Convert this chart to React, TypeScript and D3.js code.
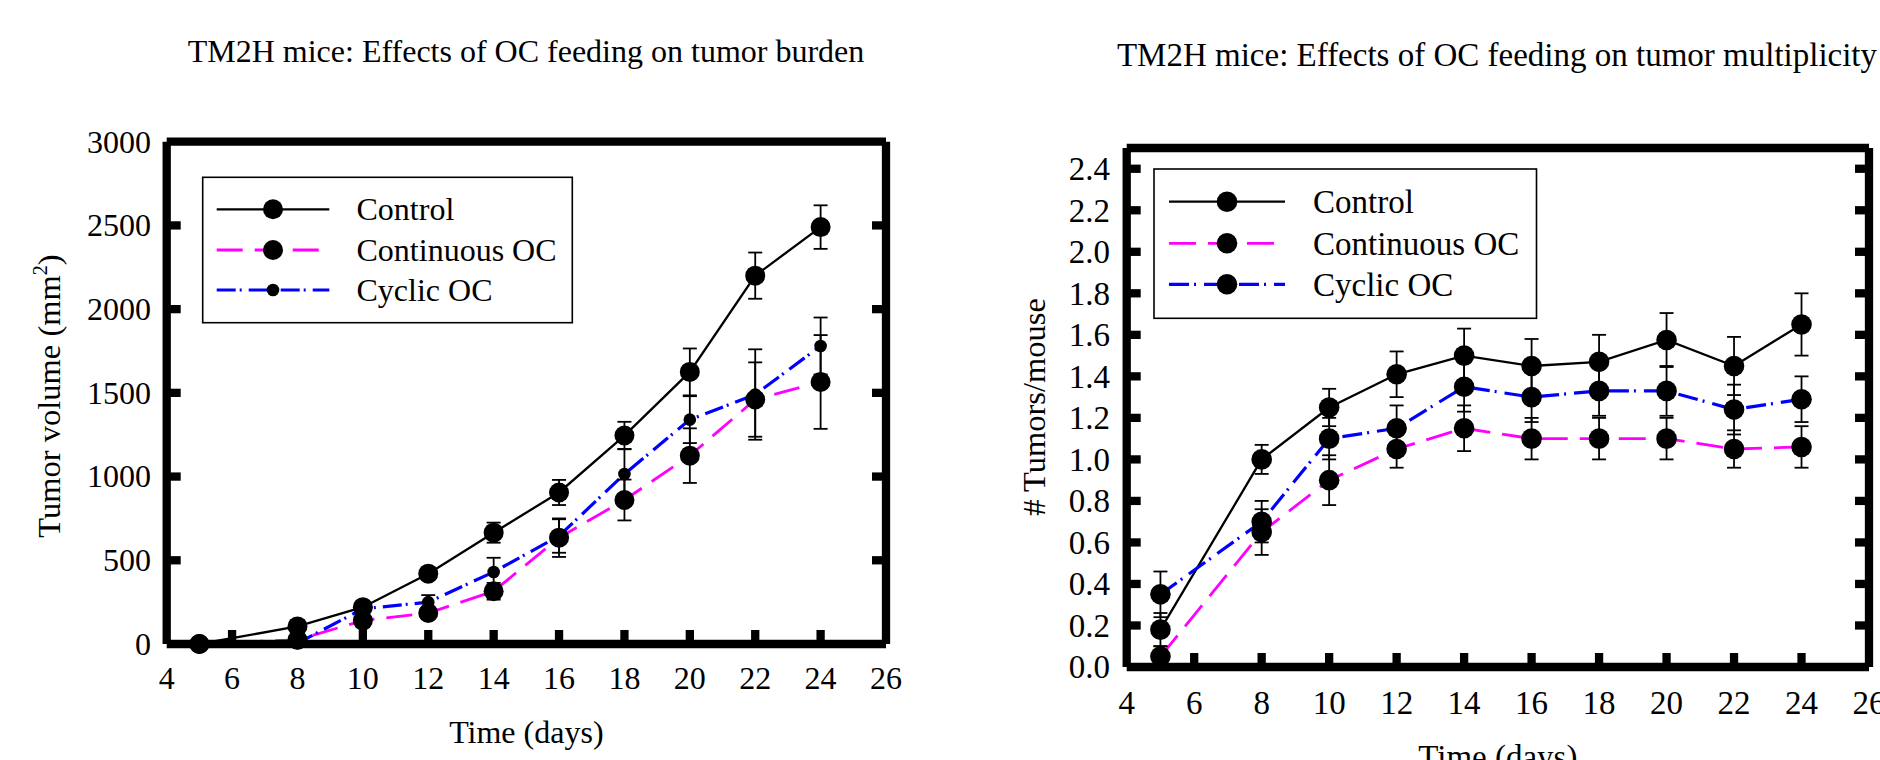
import React from 'react';
import * as d3 from 'd3';

// ---------- data ----------
const days = [5, 8, 10, 12, 14, 16, 18, 20, 22, 24];
const xTickValues = [4, 6, 8, 10, 12, 14, 16, 18, 20, 22, 24, 26];

const volumeControl = [0, 105, 220, 420, 665, 905, 1245, 1625, 2200, 2490];
const volumeControlErr = [0, 15, 20, 20, 60, 75, 82, 140, 138, 130];
const volumeContinuous = [0, 25, 140, 185, 315, 635, 860, 1125, 1460, 1565];
const volumeContinuousErr = [0, 10, 35, 30, 50, 115, 122, 163, 222, 280];
const volumeCyclic = [0, 5, 210, 250, 430, 645, 1015, 1340, 1490, 1780];
const volumeCyclicErr = [0, 5, 30, 42, 85, 100, 150, 140, 270, 170];
const volumeTicks = [0, 500, 1000, 1500, 2000, 2500, 3000];

const tumorsControl = [0.18, 1.0, 1.25, 1.41, 1.5, 1.45, 1.47, 1.575, 1.45, 1.65];
const tumorsControlErr = [0.08, 0.07, 0.09, 0.11, 0.13, 0.13, 0.13, 0.13, 0.14, 0.15];
const tumorsContinuous = [0.05, 0.65, 0.9, 1.05, 1.15, 1.1, 1.1, 1.1, 1.05, 1.06];
const tumorsContinuousErr = [0.05, 0.11, 0.12, 0.09, 0.11, 0.1, 0.1, 0.1, 0.09, 0.1];
const tumorsCyclic = [0.35, 0.7, 1.1, 1.15, 1.35, 1.3, 1.33, 1.33, 1.24, 1.29];
const tumorsCyclicErr = [0.11, 0.1, 0.1, 0.11, 0.12, 0.12, 0.12, 0.12, 0.12, 0.11];
const tumorTicks = [0, 0.2, 0.4, 0.6, 0.8, 1.0, 1.2, 1.4, 1.6, 1.8, 2.0, 2.2, 2.4];

const seriesNames = ['Control', 'Continuous OC', 'Cyclic OC'];

const FONT = '"Liberation Serif", "Times New Roman", serif';

type Series = {
  name: string;
  values: number[];
  errs: number[];
  color: string;
  width: number;
  dash: string;
  r: number;
};

type PanelProps = {
  title: string;
  titleX: number;
  titleY: number;
  fontSize: number;
  xRange: [number, number];
  yRange: [number, number];
  yDomain: [number, number];
  yTicks: number[];
  yFormat: (v: number) => string;
  xLabelY: number;
  xTickLabelY: number;
  yTickLabelX: number;
  yLabel: React.ReactNode;
  series: Series[];
  legend: {
    box: [number, number, number, number];
    rows: number[];
    lineX: [number, number];
    markerX: number;
    textX: number;
    textDy: number;
    markerR: number[];
  };
};

function Panel(p: PanelProps) {
  const x = d3.scaleLinear().domain([4, 26]).range(p.xRange);
  const y = d3.scaleLinear().domain(p.yDomain).range(p.yRange);
  const [xl, xr] = p.xRange;
  const [yb, yt] = p.yRange;
  const fs = p.fontSize;
  const frameW = 8.3;
  const tickLen = 14;
  const innerTicksX = xTickValues.filter((v) => v > 4 && v < 26);
  const innerTicksY = p.yTicks.filter((v) => v > p.yDomain[0] && v < p.yDomain[1]);
  const line = d3
    .line<number>()
    .x((_, i) => x(days[i]))
    .y((d) => y(d));
  return (
    <g>
      <text x={p.titleX} y={p.titleY} textAnchor="middle" fontSize={fs} fontFamily={FONT}>
        {p.title}
      </text>
      {/* series lines */}
      {p.series.map((s) => (
        <path
          key={s.name + 'l'}
          d={line(s.values) || ''}
          fill="none"
          stroke={s.color}
          strokeWidth={s.width}
          strokeDasharray={s.dash}
        />
      ))}
      {/* error bars */}
      {p.series.map((s) =>
        s.values.map((v, i) =>
          s.errs[i] > 0 ? (
            <g key={s.name + 'e' + i} stroke="#000" strokeWidth={1.8}>
              <line x1={x(days[i])} x2={x(days[i])} y1={y(v - s.errs[i])} y2={y(v + s.errs[i])} />
              <line x1={x(days[i]) - 7} x2={x(days[i]) + 7} y1={y(v - s.errs[i])} y2={y(v - s.errs[i])} />
              <line x1={x(days[i]) - 7} x2={x(days[i]) + 7} y1={y(v + s.errs[i])} y2={y(v + s.errs[i])} />
            </g>
          ) : null
        )
      )}
      {/* markers */}
      {p.series.map((s) =>
        s.values.map((v, i) => <circle key={s.name + 'm' + i} cx={x(days[i])} cy={y(v)} r={s.r} fill="#000" />)
      )}
      {/* frame */}
      <g stroke="#000" strokeWidth={frameW} strokeLinecap="butt">
        <line x1={xl} x2={xr} y1={yt} y2={yt} />
        <line x1={xl} x2={xr} y1={yb} y2={yb} />
        <line x1={xl} x2={xl} y1={yt} y2={yb} />
        <line x1={xr} x2={xr} y1={yt} y2={yb} />
        {innerTicksX.map((v) => (
          <line key={'bx' + v} x1={x(v)} x2={x(v)} y1={yb} y2={yb - tickLen} />
        ))}
        {innerTicksY.map((v) => (
          <g key={'ty' + v}>
            <line x1={xl} x2={xl + tickLen} y1={y(v)} y2={y(v)} />
            <line x1={xr} x2={xr - tickLen} y1={y(v)} y2={y(v)} />
          </g>
        ))}
      </g>
      {/* tick labels */}
      {xTickValues.map((v) => (
        <text key={'xl' + v} x={x(v)} y={p.xTickLabelY} textAnchor="middle" fontSize={fs} fontFamily={FONT}>
          {v}
        </text>
      ))}
      {p.yTicks.map((v) => (
        <text key={'yl' + v} x={p.yTickLabelX} y={y(v) + fs * 0.34} textAnchor="end" fontSize={fs} fontFamily={FONT}>
          {p.yFormat(v)}
        </text>
      ))}
      <text x={(xl + xr) / 2} y={p.xLabelY} textAnchor="middle" fontSize={fs} fontFamily={FONT}>
        Time (days)
      </text>
      {p.yLabel}
      {/* legend */}
      <rect
        x={p.legend.box[0]}
        y={p.legend.box[1]}
        width={p.legend.box[2] - p.legend.box[0]}
        height={p.legend.box[3] - p.legend.box[1]}
        fill="#fff"
        stroke="#000"
        strokeWidth={1.6}
      />
      {p.series.map((s, i) => (
        <g key={'lg' + s.name}>
          <line
            x1={p.legend.lineX[0]}
            x2={p.legend.lineX[1]}
            y1={p.legend.rows[i]}
            y2={p.legend.rows[i]}
            stroke={s.color}
            strokeWidth={s.width}
            strokeDasharray={s.dash}
          />
          <circle cx={p.legend.markerX} cy={p.legend.rows[i]} r={p.legend.markerR[i]} fill="#000" />
          <text x={p.legend.textX} y={p.legend.rows[i] + p.legend.textDy} fontSize={fs} fontFamily={FONT}>
            {s.name}
          </text>
        </g>
      ))}
    </g>
  );
}

export default function App() {
  const leftSeries: Series[] = [
    { name: seriesNames[0], values: volumeControl, errs: volumeControlErr, color: '#000', width: 2.3, dash: '', r: 10 },
    { name: seriesNames[1], values: volumeContinuous, errs: volumeContinuousErr, color: '#ff00ff', width: 2.8, dash: '26,12', r: 10 },
    { name: seriesNames[2], values: volumeCyclic, errs: volumeCyclicErr, color: '#0000ff', width: 3.2, dash: '19,4,2,7', r: 6.3 },
  ];
  const rightSeries: Series[] = [
    { name: seriesNames[0], values: tumorsControl, errs: tumorsControlErr, color: '#000', width: 2.3, dash: '', r: 10.3 },
    { name: seriesNames[1], values: tumorsContinuous, errs: tumorsContinuousErr, color: '#ff00ff', width: 2.8, dash: '27,12', r: 10.3 },
    { name: seriesNames[2], values: tumorsCyclic, errs: tumorsCyclicErr, color: '#0000ff', width: 3.2, dash: '20,5,2,8', r: 10.3 },
  ];
  return (
    <svg
      width={1880}
      height={760}
      style={{ position: 'absolute', left: 0, top: 0, background: '#fff' }}
      xmlns="http://www.w3.org/2000/svg"
    >
      <rect x={0} y={0} width={1880} height={760} fill="#fff" />
      <Panel
        title="TM2H mice: Effects of OC feeding on tumor burden"
        titleX={526}
        titleY={62}
        fontSize={32}
        xRange={[166.7, 886]}
        yRange={[644, 141.7]}
        yDomain={[0, 3000]}
        yTicks={volumeTicks}
        yFormat={(v) => String(v)}
        xLabelY={743}
        xTickLabelY={689}
        yTickLabelX={151}
        series={leftSeries}
        yLabel={
          <text
            transform="translate(60,396) rotate(-90)"
            textAnchor="middle"
            fontSize={32.5}
            fontFamily={FONT}
          >
            Tumor volume (mm
            <tspan fontSize={20} dy={-13}>2</tspan>
            <tspan dy={13}>)</tspan>
          </text>
        }
        legend={{
          box: [202.7, 177.3, 572.3, 322.7],
          rows: [209.3, 250, 290],
          lineX: [216.7, 329.3],
          markerX: 273,
          textX: 356.5,
          textDy: 10.8,
          markerR: [10, 10, 6.3],
        }}
      />
      <Panel
        title="TM2H mice: Effects of OC feeding on tumor multiplicity"
        titleX={1497}
        titleY={65.5}
        fontSize={33}
        xRange={[1126.7, 1869]}
        yRange={[667, 148]}
        yDomain={[0, 2.5]}
        yTicks={tumorTicks}
        yFormat={(v) => d3.format('.1f')(v)}
        xLabelY={768}
        xTickLabelY={714}
        yTickLabelX={1110}
        series={rightSeries}
        yLabel={
          <text
            transform="translate(1045,407) rotate(-90)"
            textAnchor="middle"
            fontSize={32.5}
            fontFamily={FONT}
          >
            # Tumors/mouse
          </text>
        }
        legend={{
          box: [1154, 169, 1536.5, 318.3],
          rows: [201.7, 243.3, 284.3],
          lineX: [1169, 1285],
          markerX: 1227,
          textX: 1313,
          textDy: 11.5,
          markerR: [10.3, 10.3, 10.3],
        }}
      />
    </svg>
  );
}
